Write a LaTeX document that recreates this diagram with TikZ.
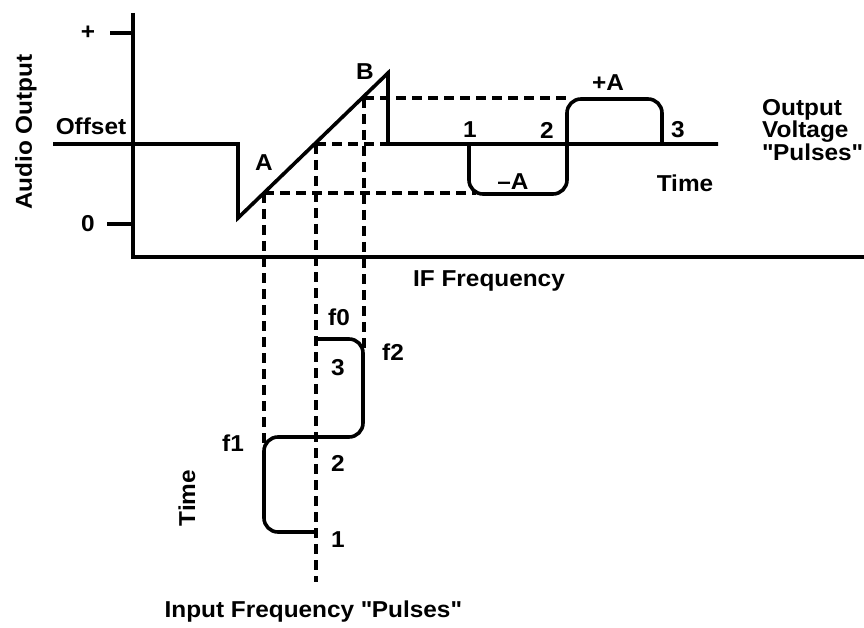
\documentclass[tikz,border=0pt]{standalone}
\usepackage{fontspec}
\setmainfont{Liberation Sans}[FakeStretch=1.06]
\begin{document}
\begin{tikzpicture}[x=1pt,y=-1pt,
  solidline/.style={line width=3.6pt, line join=miter},
  dashline/.style={line width=3.1pt, dash pattern=on 10pt off 6pt},
  lbl/.style={font=\bfseries\fontsize{23}{25}\selectfont, inner sep=0pt}]
\useasboundingbox (0,0) rectangle (864,628);
\fill[white] (0,0) rectangle (864,628);
% coordinates
\coordinate (ytop) at (133,13);
\coordinate (orig) at (133,257);
\coordinate (xend) at (864,257);
\coordinate (offL) at (53,144);
\coordinate (drop) at (238,144);
\coordinate (low) at (238,218);
\coordinate (peak) at (388,73);
\coordinate (peakB) at (388,144);
\coordinate (bend) at (718,144);
\coordinate (pA) at (264,193);
\coordinate (pM) at (316,144);
\coordinate (pB) at (364,98);
% axes
\draw[solidline] (ytop) -- (orig) -- (xend);
\draw[solidline] (110,33) -- (133,33);
\draw[solidline] (107,224) -- (133,224);
% response curve
\draw[solidline] (offL) -- (drop) -- (low) -- (peak) -- (peakB) -- (bend);
% output pulses
\draw[solidline] (469,144) [rounded corners=14pt] -- (469,194) -- (567,194) -- (567,99) -- (662,99) [sharp corners] -- (662,144);
% input pulses
\draw[solidline, rounded corners=14pt] (316,532) -- (264,532) -- (264,437) -- (363,437) -- (363,339) -- (316,339);
% dashed projections
\draw[dashline] (pA) -- (476,193);
\draw[dashline] (pB) -- (572,98);
\draw[dashline] (pM) -- (peakB);
\draw[dashline] (pA) -- (264,447);
\draw[dashline] (pM) -- (316,582);
\draw[dashline] (pB) -- (364,350);
% labels
\node[lbl] (plus) at (88,33) {+};
\node[lbl] (zero) at (88,224) {0};
\node[lbl] (offset) at (91,126) {Offset};
\node[lbl, rotate=90] (audio) at (26,132) {Audio Output};
\node[lbl] (lA) at (264,163) {A};
\node[lbl] (lB) at (365,72) {B};
\node[lbl] (iff) at (489,281) {IF Frequency};
\node[lbl] (o1) at (470,130) {1};
\node[lbl] (o2) at (547,130) {2};
\node[lbl] (o3) at (678,130) {3};
\node[lbl] (mA) at (513,182) {\textendash A};
\node[lbl] (pAl) at (608,83) {+A};
\node[lbl] (otime) at (685,183) {Time};
\node[lbl, anchor=west, align=left, font=\bfseries\fontsize{23}{22.5}\selectfont] (ovp) at (762,130) {Output\\Voltage\\\textquotedbl Pulses\textquotedbl};
\node[lbl] (f0) at (339,317) {f0};
\node[lbl] (f2) at (393,352) {f2};
\node[lbl] (i3) at (338,368) {3};
\node[lbl] (i2) at (338,463) {2};
\node[lbl] (i1) at (338,540) {1};
\node[lbl] (f1) at (233,443) {f1};
\node[lbl, rotate=90] (itime) at (187,498) {Time};
\node[lbl] (ifp) at (313,612) {Input Frequency \textquotedbl Pulses\textquotedbl};
\end{tikzpicture}
\end{document}
